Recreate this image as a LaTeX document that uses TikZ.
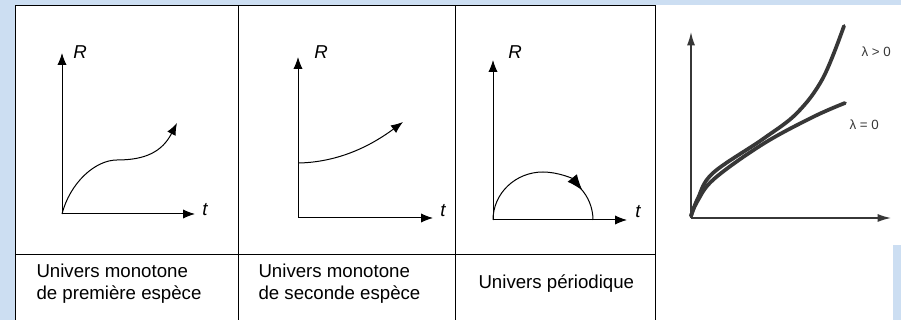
\documentclass[tikz,border=0pt]{standalone}
\usepackage{fontspec}
\setmainfont{Liberation Sans}
\usetikzlibrary{arrows.meta}
\definecolor{fond}{RGB}{204,222,242}
\definecolor{trace}{RGB}{55,55,55}
\tikzset{every picture/.style={line width=0.75pt}}
\tikzset{
  axe/.style={-{Latex[length=9pt,width=7pt]}},
  courbe/.style={-{Latex[length=9pt,width=7pt]}},
  lbl/.style={font=\fontsize{14}{17}\selectfont\itshape, inner sep=0pt},
  legende/.style={font=\fontsize{14}{16.5}\selectfont, align=left, anchor=north west, inner sep=0pt},
  lam/.style={font=\fontsize{10}{11}\selectfont, text=trace, inner sep=0pt},
  epais/.style={line width=2.8pt, color=trace, line cap=round}
}

\begin{document}
\begin{tikzpicture}[x=0.75pt,y=0.75pt,yscale=-1,xscale=1]
    \useasboundingbox (0,0) rectangle (901,320);
    \clip (0,0) rectangle (901,320);
    %fond
    \fill[fond] (0,0) rectangle (901,320);
    \fill[white] (655,5) rectangle (901,245);
    \fill[white] (655,245) rectangle (893,320);
    %tableau
    \draw[fill=white] (15,6) rectangle (655,330);
    \draw (238,6) -- (238,330);
    \draw (455,6) -- (455,330);
    \draw (15,255) -- (655,255);

    %premiere espece
    \coordinate (O1) at (62,214);
    \coordinate (R1) at (62,53);
    \coordinate (T1) at (195,214);
    \draw[axe] (O1) -- (R1);
    \draw[axe] (O1) -- (T1);
    \node[lbl] (r1) at (80,52) {R};
    \node[lbl] (t1) at (205,210) {t};
    \draw[courbe] (O1) .. controls (70,183) and (95,160) .. (117,160) .. controls (145,160) and (162,152) .. (177,123);
    \node[legende] (u1) at (36,263) {Univers monotone\\de première espèce};

    %seconde espece
    \coordinate (O2) at (298,218);
    \coordinate (R2) at (298,57);
    \coordinate (T2) at (433,218);
    \draw[axe] (O2) -- (R2);
    \draw[axe] (O2) -- (T2);
    \node[lbl] (r2) at (321,52) {R};
    \node[lbl] (t2) at (443,211) {t};
    \draw[courbe] (299,163) .. controls (340,162) and (372,145) .. (403,122);
    \node[legende] (u2) at (258,263) {Univers monotone\\de seconde espèce};

    %periodique
    \coordinate (O3) at (493,220);
    \coordinate (R3) at (493,60);
    \coordinate (T3) at (627,220);
    \draw[axe] (O3) -- (R3);
    \draw[axe] (O3) -- (T3);
    \node[lbl] (r3) at (515,52) {R};
    \node[lbl] (t3) at (638,212) {t};
    \draw[-{Latex[length=12pt,width=9pt]}] (O3) arc[start angle=180, end angle=322, x radius=50, y radius=48];
    \draw (O3) ++(100,0) arc[start angle=360, end angle=318, x radius=50, y radius=48];
    \node[legende, anchor=west] (u3) at (478,284) {Univers périodique};

    %facteur d'echelle
    \coordinate (O4) at (691,218);
    \coordinate (R4) at (691,32);
    \coordinate (T4) at (891,218);
    \draw[-{Latex[length=10pt,width=6pt]}, line width=1.1pt, trace] (O4) -- (R4);
    \draw[-{Latex[length=10pt,width=6pt]}, line width=1.1pt, trace] (O4) -- (T4);
    \draw[epais] plot[smooth, tension=0.6] coordinates {(691,216) (698,198) (713,173) (763,139) (797,113) (823,78) (844,26)};
    \draw[epais] plot[smooth, tension=0.6] coordinates {(691,216) (697,202) (714,179) (763,144) (813,117) (845,103)};
    \node[lam, anchor=west] (lp) at (861,52) {λ > 0};
    \node[lam, anchor=west] (lz) at (849,125) {λ = 0};
\end{tikzpicture}
\end{document}
